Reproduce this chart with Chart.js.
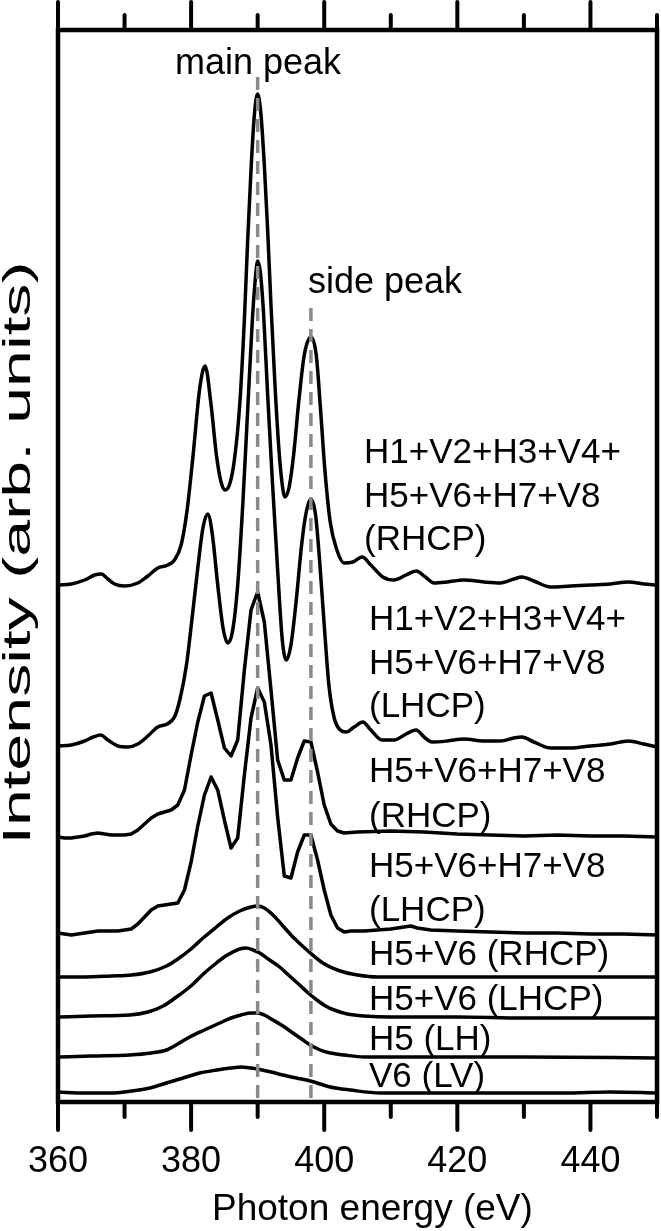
<!DOCTYPE html>
<html><head><meta charset="utf-8">
<script src="https://cdn.jsdelivr.net/npm/chart.js@4.4.1/dist/chart.umd.min.js"></script>
<style>html,body{margin:0;padding:0;background:#fff;overflow:hidden}</style>
</head><body>
<canvas id="c" width="661" height="1231" style="display:block;width:661px;height:1231px"></canvas>
<script>
// ---------- DATA (photon energy in eV, intensity in arb. units incl. vertical offset) ----------
const fullRhcpX = [360,362,364,365.5,366.5,367.5,368.5,370,372,373.5,375,376.5,377.5,378.5,379.4,380.3,381.3,382.1,383,383.8,384.5,385.1,385.8,386.5,387.3,388,388.5,389,389.5,390,390.5,391,391.5,392,392.6,393.2,393.7,394.1,394.7,395.4,396.2,397,398,398.8,399.4,400.1,400.9,401.9,403,404.3,405.7,407,408.8,410.5,412.3,413.8,415.2,416.5,418.5,421,424,426.5,428.5,429.7,431.5,434,437,440,443,445.7,448,450];
const fullRhcpY = [51.7,51.8,52.2,52.7,52.8,52.3,51.8,51.6,51.9,52.6,53.4,53.7,54.2,55.7,59.2,64.7,71.4,73.6,69.7,64.7,62.0,61.2,61.8,64.2,69.7,78.2,86.2,93.2,98.7,100.8,98.7,93.7,87.2,79.7,71.7,65.2,61.7,60.5,61.4,64.7,70.2,74.7,76.5,74.7,69.7,63.2,58.0,55.2,53.9,54.0,54.5,53.7,52.5,52.2,52.7,53.1,52.5,51.9,52.0,52.2,52.0,51.9,52.3,52.5,52.1,51.5,51.6,51.7,51.8,52.0,51.8,51.7];

const fullLhcpX = [360,362,364,365.3,366.4,367.5,369,370.5,372,373.5,375,376.4,377.5,378.3,379.3,380.2,381,381.8,382.5,383.2,384,384.8,385.5,386.2,387,387.8,388.5,389.2,389.7,390,390.4,390.9,391.5,392.2,393,393.7,394.3,395,395.8,396.6,397.3,398,398.7,399.3,400,400.7,401.5,402.4,403.3,404.5,405.8,407,408.7,410.5,412.3,413.8,415,416.2,418.5,421,424,426.5,428.5,429.7,431.5,434,437,440,443,445.7,448,450];
const fullLhcpY = [35.6,35.7,36.1,36.5,36.7,36.2,35.6,35.5,35.8,36.6,37.5,37.8,38.5,40.2,43.7,48.7,53.4,57.5,58.8,56.7,51.7,47.4,45.9,47.0,51.7,60.2,69.2,78.2,82.7,84.1,83.0,78.7,70.7,62.2,53.2,46.2,44.2,45.7,50.2,55.7,59.0,60.3,58.7,54.2,47.7,41.7,38.4,37.2,37.0,37.5,38.0,37.2,36.2,36.2,36.8,37.2,36.5,36.0,36.1,36.3,36.1,36.1,36.4,36.5,36.0,35.4,35.4,35.6,35.8,36.1,35.8,35.5];

const halfRhcpX = [360,361,362,363,364,365,366,367,368,369,370,371,372,373,374,375,376,377,378,379,380,381,382,383,384,385,386,387,388,389,390,391,392,393,394,395,396,397,398,399,400,401,402,403,405,410,415,420,425,430,435,440,445,450];
const halfRhcpY = [26.5,26.4,26.4,26.5,26.6,26.8,26.9,26.8,26.7,26.7,26.7,26.8,27.2,27.8,28.4,28.8,29.0,29.2,29.7,31.2,34.7,38.0,40.6,40.9,38.2,35.4,34.6,36.2,43.2,49.2,51.0,48.0,41.2,34.2,32.2,32.2,34.4,36.1,36.0,33.0,29.7,27.8,27.1,26.9,27.0,27.1,27.0,26.8,26.7,26.6,26.7,26.6,26.6,26.5];

const halfLhcpX = [360,361,362,363,364,365,366,367,368,369,370,371,372,373,374,375,376,377,378,379,380,381,382,383,384,385,386,387,388,389,390,391,392,393,394,395,396,397,398,399,400,401,402,403,404,406,408,410,412,413,414,416,420,425,430,435,440,445,450];
const halfLhcpY = [16.9,16.8,16.7,16.8,16.9,17.0,17.1,17.1,17.1,17.1,17.2,17.3,17.8,18.5,19.2,19.6,19.7,19.8,19.9,21.2,24.0,27.6,30.7,32.5,31.2,28.2,25.4,26.4,32.7,38.4,41.4,40.0,35.7,28.5,22.6,22.4,25.0,26.7,26.7,24.2,21.2,18.7,17.4,17.0,17.1,17.1,17.2,17.3,17.5,17.6,17.4,17.2,17.1,17.0,16.9,16.9,16.8,16.8,16.7];

const pairRhcpX = [360,364,368,371,373.8,376.3,378,379.8,381.8,383.8,385.5,387.3,389,390,391,392.3,393.8,395.3,397.4,399.8,402.4,405,408,415,425,435,450];
const pairRhcpY = [12.5,12.5,12.6,12.7,13.0,13.6,14.3,15.2,16.4,17.5,18.4,19.1,19.5,19.6,19.4,18.7,17.6,16.5,15.2,13.9,13.1,12.7,12.5,12.5,12.5,12.5,12.5];

const pairLhcpX = [360,365,370.8,373.5,375.8,378,379.8,382,383.8,385.2,386.3,387.3,388.3,389.3,390.3,391.8,393.3,394.8,396.3,397.6,398.9,400.2,401.5,403.5,406,410,420,430,440,450];
const pairLhcpY = [8.5,8.6,8.7,9.0,9.6,10.6,11.5,12.9,13.9,14.6,15.0,15.3,15.4,15.2,14.9,14.2,13.5,12.6,11.7,10.9,10.2,9.6,9.2,8.8,8.6,8.5,8.5,8.4,8.4,8.4];

const h5X = [360,365,370.8,374,376.3,378,379.8,382,384.3,386,387.5,389,390,391,392.3,393.8,395.3,396.6,397.9,399.4,400.9,403,406,415,430,450];
const h5Y = [4.5,4.6,4.7,4.9,5.2,5.8,6.5,7.2,7.9,8.4,8.7,8.9,8.9,8.7,8.2,7.6,6.9,6.3,5.7,5.2,4.9,4.7,4.5,4.5,4.5,4.4];

const v6X = [360,364,367.8,371,373.8,376.3,378.8,381.3,383.9,386,387.5,389,390,392,393.8,395.8,397.9,400.9,403.9,408.4,415,426,436,443,450];
const v6Y = [1.0,0.9,0.9,1.1,1.4,1.9,2.4,2.9,3.2,3.4,3.5,3.4,3.3,3.0,2.7,2.4,2.1,1.5,1.2,0.9,0.9,0.9,0.9,1.0,0.9];

// guide lines (main peak / side peak)
const mainPeakX = [390, 390];
const mainPeakY = [102.5, 0];
const sidePeakX = [398, 398];
const sidePeakY = [79.4, 0];

// axis ticks
const xMajorTicks = [360, 380, 400, 420, 440];
const xMinorTicks = [370, 390, 410, 430, 450];

// texts
const curveLabels = [
  ["H1+V2+H3+V4+", "H5+V6+H7+V8", "(RHCP)"],
  ["H1+V2+H3+V4+", "H5+V6+H7+V8", "(LHCP)"],
  ["H5+V6+H7+V8", "(RHCP)"],
  ["H5+V6+H7+V8", "(LHCP)"],
  ["H5+V6 (RHCP)"],
  ["H5+V6 (LHCP)"],
  ["H5 (LH)"],
  ["V6 (LV)"]
];
const peakLabels = ["main peak", "side peak"];
const xTitle = "Photon energy (eV)";
const yTitle = "Intensity (arb. units)";

// ---------- LAYOUT (pixels) ----------
const FONT = '"Liberation Sans", Arial, Helvetica, sans-serif';
const curveLabelPos = [[364,463,43.5],[369,630,43.5],[369,782,44.5],[369,877,43.5],[369,965,0],[369,1010,0],[369,1050,0],[369,1087,0]];
const peakLabelPos = [[175,74],[308,293]];

function pts(xs, ys){ return xs.map((x,i)=>({x:x, y:ys[i]})); }

const curveStyle = (xs, ys, smooth) => ({
  data: pts(xs, ys), borderColor:'#000', borderWidth:3.5, pointRadius:0, fill:false,
  cubicInterpolationMode: smooth ? 'monotone' : 'default', tension: 0, order: 1,
  borderJoinStyle:'round', borderCapStyle:'round'
});
const guideStyle = (xs, ys) => ({
  data: pts(xs, ys), borderColor:'#8a8a8a', borderWidth:3.5, pointRadius:0, fill:false,
  borderDash:[13,8], order: 0, tension: 0
});

const deco = {
  id: 'deco',
  afterDraw(chart){
    const {ctx, chartArea:a} = chart;
    const xs = chart.scales.x;
    ctx.save();
    ctx.strokeStyle = '#000';
    ctx.lineWidth = 4;
    ctx.lineCap = 'round';
    const tick = (v, len) => {
      const px = xs.getPixelForValue(v);
      ctx.beginPath(); ctx.moveTo(px, a.bottom); ctx.lineTo(px, a.bottom + len); ctx.stroke();
      ctx.beginPath(); ctx.moveTo(px, a.top); ctx.lineTo(px, a.top - len); ctx.stroke();
    };
    xMajorTicks.forEach(v => tick(v, 28));
    xMinorTicks.forEach(v => tick(v, 15));
    ctx.lineCap = 'butt';
    ctx.lineWidth = 4.5;
    ctx.strokeRect(a.left, a.top, a.right - a.left, a.bottom - a.top);
    ctx.fillStyle = '#000';
    ctx.textBaseline = 'alphabetic';
    ctx.textAlign = 'left';
    ctx.font = '35px ' + FONT;
    curveLabels.forEach((lines, i) => {
      const [lx, ly, lh] = curveLabelPos[i];
      lines.forEach((t, j) => ctx.fillText(t, lx, ly + j * lh));
    });
    ctx.font = '36px ' + FONT;
    peakLabels.forEach((t, i) => ctx.fillText(t, peakLabelPos[i][0], peakLabelPos[i][1]));
    ctx.font = '37px ' + FONT;
    ctx.fillText(xTitle, 212, 1220);
    // y title: stretched along its length to span the reference extent
    ctx.save();
    ctx.font = '38px ' + FONT;
    const w = ctx.measureText(yTitle).width;
    ctx.translate(30, 553);
    ctx.rotate(-Math.PI/2);
    ctx.scale(583 / w, 1);
    ctx.textAlign = 'center';
    ctx.fillText(yTitle, 0, 0);
    ctx.restore();
    ctx.restore();
  }
};

new Chart(document.getElementById('c'), {
  type: 'line',
  data: { datasets: [
    guideStyle(mainPeakX, mainPeakY),
    guideStyle(sidePeakX, sidePeakY),
    curveStyle(fullRhcpX, fullRhcpY, true),
    curveStyle(fullLhcpX, fullLhcpY, true),
    curveStyle(halfRhcpX, halfRhcpY, false),
    curveStyle(halfLhcpX, halfLhcpY, false),
    curveStyle(pairRhcpX, pairRhcpY, true),
    curveStyle(pairLhcpX, pairLhcpY, true),
    curveStyle(h5X, h5Y, true),
    curveStyle(v6X, v6Y, true)
  ]},
  options: {
    responsive: false, animation: false, devicePixelRatio: 1,
    layout: { padding: { top: 30, right: 4, bottom: 0, left: 0 } },
    plugins: { legend: { display: false }, tooltip: { enabled: false } },
    scales: {
      x: {
        type: 'linear', min: 360, max: 450,
        grid: { display: false, drawTicks: false }, border: { display: false },
        ticks: { autoSkip: false, maxRotation: 0, minRotation: 0, padding: 38, color: '#000',
                 font: { family: FONT, size: 36 } },
        afterBuildTicks: s => { s.ticks = xMajorTicks.map(v => ({ value: v })); },
        afterFit: s => { s.height = 129; s.paddingRight = 0; s.paddingLeft = 0; }
      },
      y: {
        type: 'linear', min: 0, max: 107.2,
        grid: { display: false, drawTicks: false }, border: { display: false },
        ticks: { display: false },
        afterFit: s => { s.width = 58; }
      }
    }
  },
  plugins: [deco]
});
</script>
</body></html>
